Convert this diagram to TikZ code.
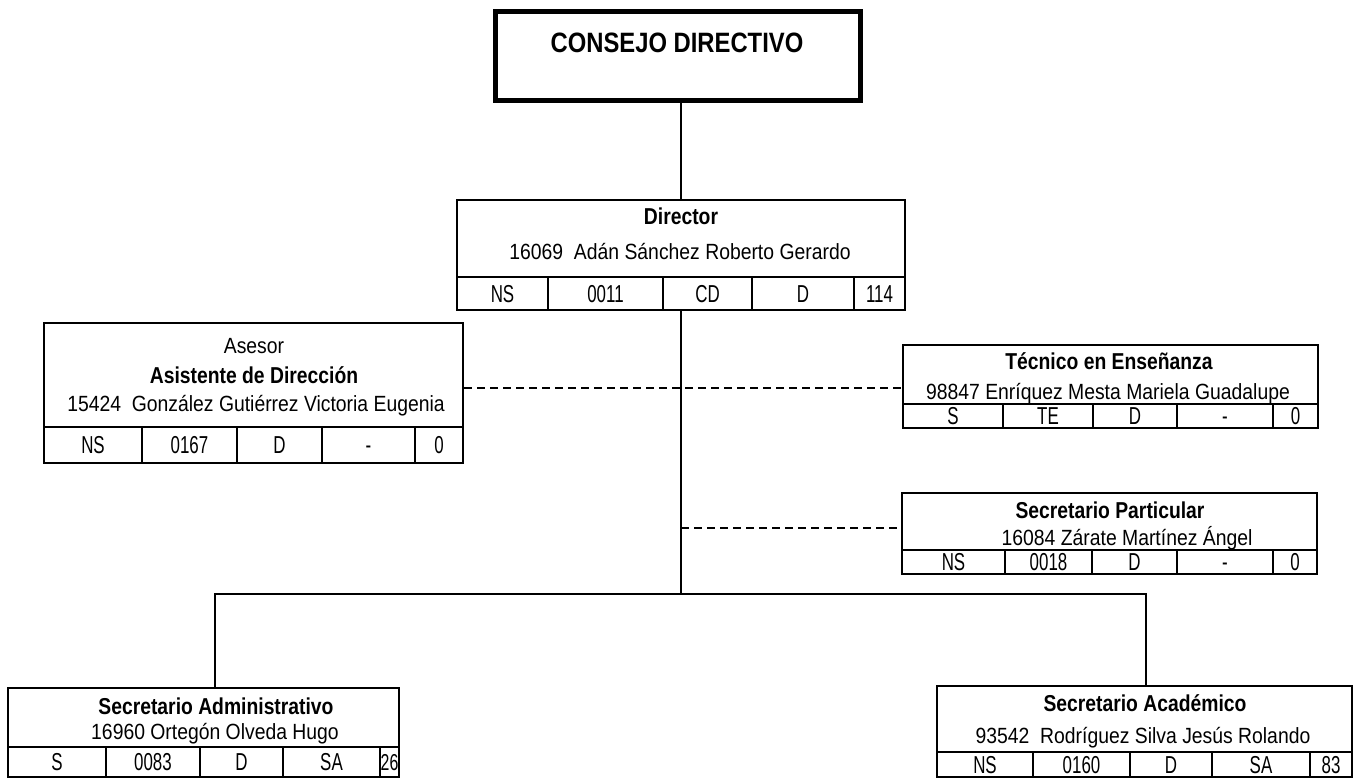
\documentclass[tikz,border=0pt]{standalone}
\usepackage{fontspec}
\setmainfont{Liberation Sans}[FakeStretch=0.88]
\newfontfamily\ttlfont{Liberation Sans}[FakeStretch=0.84]
\newfontfamily\topfont{Liberation Sans}[FakeStretch=0.85]
\newfontfamily\rowfont{Liberation Sans}[FakeStretch=0.69]
\newcommand{\namesize}{\fontsize{22}{24}\selectfont}
\newcommand{\ttlsize}{\ttlfont\bfseries\fontsize{23}{25}\selectfont}
\newcommand{\rowsize}{\rowfont\fontsize{24.5}{26}\selectfont}
\tikzset{
	unit/.style={draw, line width=2pt, inner sep=0pt},
	cell/.style={draw, line width=2pt, inner sep=0pt, minimum height=#1,
		text height=17.5pt, text depth=0pt, font=\rowsize},
	ttl/.style={inner sep=0pt, anchor=base, font=\ttlsize},
	lbl/.style={inner sep=0pt, anchor=base, font=\namesize},
	conn/.style={line width=1.7pt},
	dashconn/.style={line width=1.7pt, dash pattern=on 8pt off 5pt}
}
\begin{document}
\begin{tikzpicture}[x=1pt,y=1pt,yscale=-1,xscale=1]
\useasboundingbox (0,0) rectangle (1354,779);

% consejo
\node[unit, line width=5pt, minimum width=365, minimum height=89] (consejo) at (677.5,55.5) {};
\node[inner sep=0pt, anchor=base, font=\topfont\bfseries\fontsize{28}{30}\selectfont] (consejo-t) at (677,52) {CONSEJO DIRECTIVO};

% director
\node[unit, minimum width=448, minimum height=110] (dir) at (681,255) {};
\node[ttl] (dir-t) at (681,224) {Director};
\node[lbl] (dir-n) at (680,259) {16069\ \ Adán Sánchez Roberto Gerardo};
\node[cell=33, minimum width=91] (dir-c1) at (502.5,293.5) {NS};
\node[cell=33, minimum width=115] (dir-c2) at (605.5,293.5) {0011};
\node[cell=33, minimum width=89] (dir-c3) at (707.5,293.5) {CD};
\node[cell=33, minimum width=102] (dir-c4) at (803,293.5) {D};
\node[cell=33, minimum width=51] (dir-c5) at (879.5,293.5) {114};

% asesor
\node[unit, minimum width=419, minimum height=140] (ase) at (253.5,393) {};
\node[lbl] (ase-a) at (254,353) {Asesor};
\node[ttl] (ase-t) at (254,383) {Asistente de Dirección};
\node[lbl] (ase-n) at (256,411) {15424\ \ González Gutiérrez Victoria Eugenia};
\node[cell=36, minimum width=98] (ase-c1) at (93,445) {NS};
\node[cell=36, minimum width=95] (ase-c2) at (189.5,445) {0167};
\node[cell=36, minimum width=85] (ase-c3) at (279.5,445) {D};
\node[cell=36, minimum width=93] (ase-c4) at (368.5,445) {-};
\node[cell=36, minimum width=48] (ase-c5) at (439,445) {0};

% tecnico
\node[unit, minimum width=415, minimum height=83] (tec) at (1110.5,386.5) {};
\node[ttl] (tec-t) at (1109,369) {Técnico en Enseñanza};
\node[lbl] (tec-n) at (1108,399) {98847 Enríquez Mesta Mariela Guadalupe};
\node[cell=24, minimum width=100] (tec-c1) at (953,416) {S};
\node[cell=24, minimum width=90] (tec-c2) at (1048,416) {TE};
\node[cell=24, minimum width=84] (tec-c3) at (1135,416) {D};
\node[cell=24, minimum width=96] (tec-c4) at (1225,416) {-};
\node[cell=24, minimum width=45] (tec-c5) at (1295.5,416) {0};

% particular
\node[unit, minimum width=415, minimum height=81] (par) at (1109.5,533.5) {};
\node[ttl] (par-t) at (1110,518) {Secretario Particular};
\node[lbl] (par-n) at (1127,545) {16084 Zárate Martínez Ángel};
\node[cell=24, minimum width=103] (par-c1) at (953.5,562) {NS};
\node[cell=24, minimum width=87] (par-c2) at (1048.5,562) {0018};
\node[cell=24, minimum width=85] (par-c3) at (1134.5,562) {D};
\node[cell=24, minimum width=96] (par-c4) at (1225,562) {-};
\node[cell=24, minimum width=44] (par-c5) at (1295,562) {0};

% administrativo
\node[unit, minimum width=391, minimum height=89] (adm) at (203.5,732.5) {};
\node[ttl] (adm-t) at (216,714) {Secretario Administrativo};
\node[lbl] (adm-n) at (215,739) {16960 Ortegón Olveda Hugo};
\node[cell=30, minimum width=98] (adm-c1) at (57,762) {S};
\node[cell=30, minimum width=94] (adm-c2) at (153,762) {0083};
\node[cell=30, minimum width=83] (adm-c3) at (241.5,762) {D};
\node[cell=30, minimum width=97] (adm-c4) at (331.5,762) {SA};
\node[cell=30, minimum width=19, text height=16pt, font=\rowfont\fontsize{23}{24}\selectfont] (adm-c5) at (389.5,762) {26};

% academico
\node[unit, minimum width=415, minimum height=91] (aca) at (1144.5,731.5) {};
\node[ttl] (aca-t) at (1145,711) {Secretario Académico};
\node[lbl] (aca-n) at (1143,743) {93542\ \ Rodríguez Silva Jesús Rolando};
\node[cell=25, minimum width=96] (aca-c1) at (985,764.5) {NS};
\node[cell=25, minimum width=97] (aca-c2) at (1081.5,764.5) {0160};
\node[cell=25, minimum width=82] (aca-c3) at (1171,764.5) {D};
\node[cell=25, minimum width=98] (aca-c4) at (1261,764.5) {SA};
\node[cell=25, minimum width=42] (aca-c5) at (1331,764.5) {83};

% connectors
\coordinate (d1) at (681,388);
\coordinate (d2) at (681,528);
\coordinate (bus) at (681,594);
\coordinate (adm-in) at (215,688);
\coordinate (aca-in) at (1146,686);

\draw[conn] (consejo.south -| dir.north) -- (dir.north);
\draw[conn] (dir.south) -- (bus);
\draw[conn] (adm-in) |- (bus) -| (aca-in);
\draw[dashconn] (d1 -| ase.east) -- (d1 -| tec.west);
\draw[dashconn] (d2) -- (d2 -| par.west);

\end{tikzpicture}
\end{document}
